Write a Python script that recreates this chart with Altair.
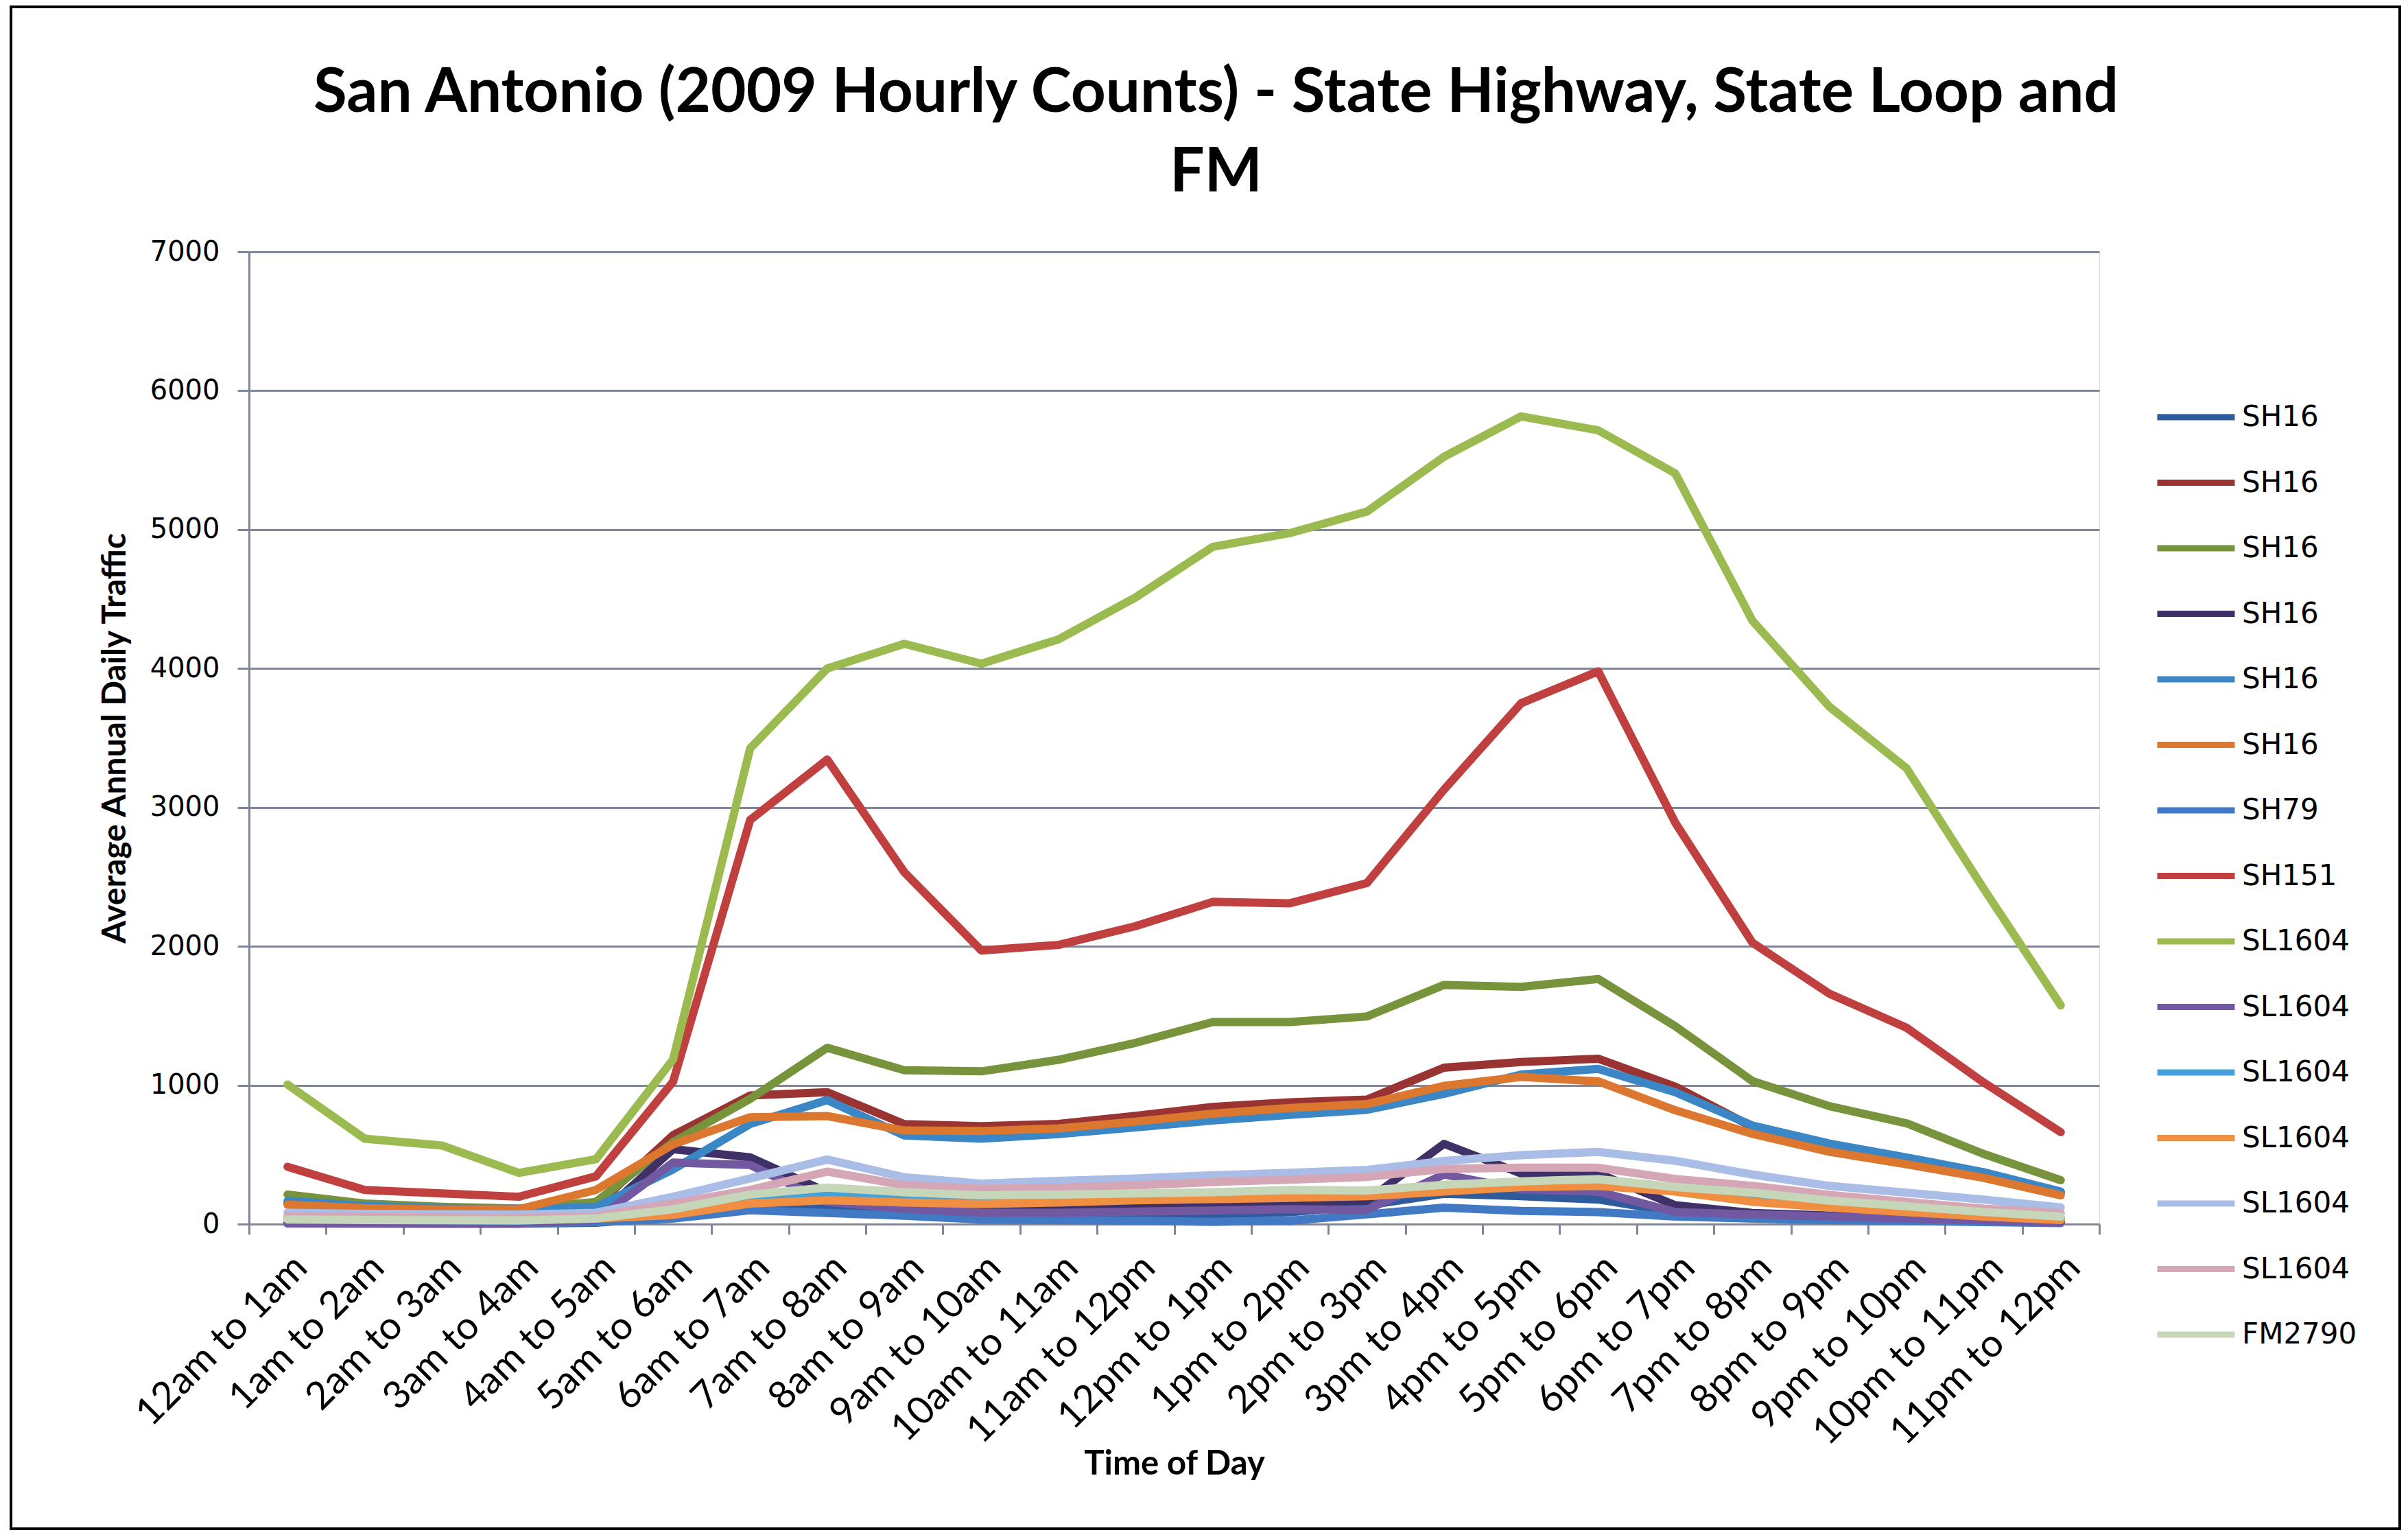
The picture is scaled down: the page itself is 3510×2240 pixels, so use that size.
import altair as alt
import pandas as pd

hours = ["12am to 1am", "1am to 2am", "2am to 3am", "3am to 4am", "4am to 5am",
         "5am to 6am", "6am to 7am", "7am to 8am", "8am to 9am", "9am to 10am",
         "10am to 11am", "11am to 12pm", "12pm to 1pm", "1pm to 2pm", "2pm to 3pm",
         "3pm to 4pm", "4pm to 5pm", "5pm to 6pm", "6pm to 7pm", "7pm to 8pm",
         "8pm to 9pm", "9pm to 10pm", "10pm to 11pm", "11pm to 12pm"]

series_keys = ["SH16_1", "SH16_2", "SH16_3", "SH16_4", "SH16_5", "SH16_6", "SH79_7",
               "SH151_8", "SL1604_9", "SL1604_10", "SL1604_11", "SL1604_12",
               "SL1604_13", "SL1604_14", "FM2790_15"]

series_colors = ["#2f5b9c", "#9a3432", "#77933c", "#3f3168", "#3b86c4", "#dc772f",
                 "#4179c4", "#c0403f", "#9bbb50", "#7258a0", "#45a2d8", "#f08e42",
                 "#a9bde6", "#d4a6b6", "#c5d7b8"]

sh16_1 = [5, 4, 3, 3, 10, 50, 110, 125, 110, 90, 80, 75, 70, 85, 136, 218, 201, 177, 87, 60, 45, 35, 25, 10]
sh16_2 = [150, 110, 100, 95, 130, 640, 926, 950, 720, 705, 721, 779, 844, 877, 897, 1126, 1167, 1191, 990, 700, 570, 470, 365, 225]
sh16_3 = [213, 148, 125, 112, 160, 590, 902, 1270, 1108, 1100, 1183, 1305, 1455, 1455, 1495, 1722, 1708, 1765, 1425, 1030, 849, 726, 505, 316]
sh16_4 = [10, 8, 6, 5, 40, 540, 480, 230, 110, 115, 123, 131, 139, 156, 169, 578, 365, 365, 136, 80, 62, 46, 33, 13]
sh16_5 = [167, 131, 115, 107, 123, 394, 721, 893, 638, 615, 648, 697, 746, 787, 823, 938, 1077, 1118, 950, 710, 580, 480, 374, 234]
sh16_6 = [139, 115, 105, 107, 246, 574, 770, 778, 674, 670, 689, 738, 795, 836, 864, 995, 1060, 1028, 820, 650, 521, 431, 333, 207]
sh79 = [10, 8, 6, 5, 15, 40, 100, 80, 60, 33, 30, 25, 16, 25, 70, 119, 95, 87, 54, 40, 30, 22, 15, 8]
sh151 = [413, 246, 221, 197, 344, 1025, 2910, 3345, 2533, 1970, 2010, 2145, 2320, 2310, 2455, 3128, 3750, 3980, 2890, 2027, 1659, 1414, 1020, 662]
sl1604_9 = [1005, 615, 566, 369, 467, 1185, 3425, 4000, 4178, 4035, 4210, 4512, 4876, 4975, 5130, 5525, 5815, 5715, 5405, 4345, 3725, 3282, 2415, 1575]
sl1604_10 = [5, 5, 5, 5, 30, 443, 426, 160, 110, 82, 82, 90, 98, 107, 103, 357, 250, 234, 87, 70, 55, 40, 28, 12]
sl1604_11 = [40, 30, 28, 25, 40, 120, 170, 205, 180, 170, 175, 180, 190, 200, 215, 260, 270, 275, 240, 190, 140, 100, 70, 40]
sl1604_12 = [50, 40, 35, 33, 40, 66, 148, 172, 156, 145, 156, 172, 180, 189, 201, 234, 267, 275, 234, 161, 120, 87, 54, 30]
sl1604_13 = [82, 74, 70, 68, 82, 197, 329, 465, 337, 292, 311, 328, 352, 369, 390, 455, 496, 520, 456, 357, 275, 226, 177, 120]
sl1604_14 = [57, 50, 48, 45, 57, 148, 246, 378, 280, 254, 262, 279, 303, 320, 340, 398, 406, 406, 325, 275, 210, 160, 111, 79]
fm2790 = [33, 30, 28, 27, 41, 107, 213, 263, 230, 207, 213, 221, 230, 246, 242, 283, 308, 324, 267, 226, 169, 128, 87, 54]

all_series = [sh16_1, sh16_2, sh16_3, sh16_4, sh16_5, sh16_6, sh79, sh151, sl1604_9,
              sl1604_10, sl1604_11, sl1604_12, sl1604_13, sl1604_14, fm2790]

y_ticks = [0, 1000, 2000, 3000, 4000, 5000, 6000, 7000]

rows = []
for key, vals in zip(series_keys, all_series):
    for i, (h, v) in enumerate(zip(hours, vals)):
        rows.append({"series": key, "hour": h, "idx": i, "value": v})
df = pd.DataFrame(rows)

grid_col = "#80859a"

lines = alt.Chart(df).mark_line(strokeWidth=12, strokeCap="round", strokeJoin="round").encode(
    x=alt.X("hour:N", sort=hours, bandPosition=0.5,
            scale=alt.Scale(type="band", paddingInner=0, paddingOuter=0),
            axis=alt.Axis(title="Time of Day", titleFont="Lato", titleFontSize=49,
                          titleFontWeight="bold", titleColor="black",
                          titleY=349, titleBaseline="middle",
                          labelAngle=-45, labelAlign="right", labelBaseline="top",
                          labelFont="Lato", labelFontSize=56, labelColor="black",
                          labelPadding=20, labelLimit=0, tickSize=15, tickWidth=3,
                          tickColor=grid_col, domainColor=grid_col, domainWidth=3,
                          tickBand="extent", grid=False, labelOverlap=False)),
    y=alt.Y("value:Q", scale=alt.Scale(domain=[0, 7000], nice=False),
            axis=alt.Axis(values=y_ticks, format="d", title="Average Annual Daily Traffic",
                          titleFont="Lato", titleFontSize=48, titleFontWeight="bold",
                          titleColor="black", titlePadding=26,
                          labelFont="DejaVu Sans", labelFontSize=40, labelColor="black",
                          labelPadding=26, tickSize=17, tickWidth=3, tickColor=grid_col,
                          domainColor=grid_col, domainWidth=3,
                          grid=True, gridColor=grid_col, gridWidth=3)),
    color=alt.Color("series:N", sort=series_keys,
                    scale=alt.Scale(domain=series_keys, range=series_colors),
                    legend=alt.Legend(title=None, orient="none", legendX=2777, legendY=180,
                                      symbolType="stroke", symbolSize=12769,
                                      symbolStrokeWidth=9, labelFont="DejaVu Sans",
                                      labelFontSize=42, labelColor="black", labelLimit=0,
                                      labelExpr="split(datum.label, '_')[0]",
                                      labelOffset=6, rowPadding=13.5, padding=0)),
    order=alt.Order("idx:Q"),
)

frame = alt.Chart(pd.DataFrame({"f": [0]})).mark_rect(
    fill=None, filled=False, stroke="black", strokeWidth=4
).encode(x=alt.value(-347), x2=alt.value(3135), y=alt.value(-357), y2=alt.value(1861))

chart = alt.layer(lines, frame).properties(
    width=2697, height=1417,
    autosize=alt.AutoSizeParams(type="none"),
    padding={"left": 355, "top": 359, "right": 442, "bottom": 449},
    title=alt.TitleParams(
        text=["San Antonio (2009 Hourly Counts) - State Highway, State Loop and", "FM"],
        font="Lato", fontSize=89, fontWeight="bold", color="black",
        anchor="middle", dx=61, dy=290, offset=0, lineHeight=116),
).configure_view(stroke=None).configure(background="white")

chart.save("out.html", embed_options={"renderer": "svg", "actions": False})
